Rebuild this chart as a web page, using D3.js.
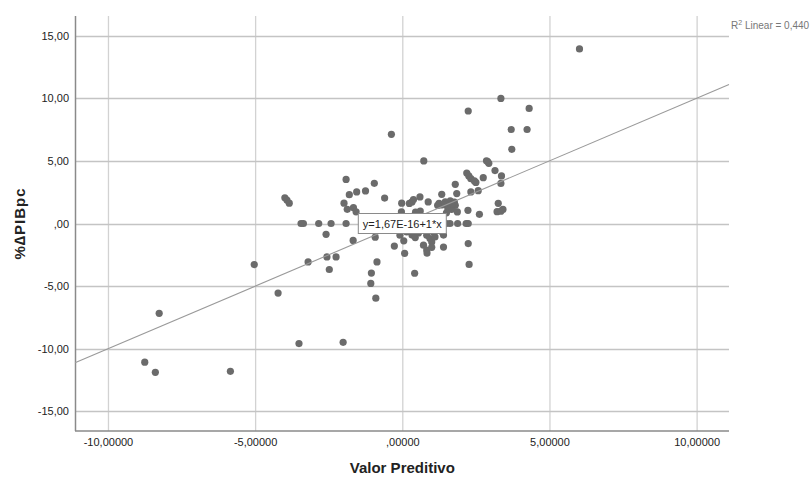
<!DOCTYPE html>
<html>
<head>
<meta charset="utf-8">
<script src="https://cdn.jsdelivr.net/npm/d3@7"></script>
<style>
  body { margin: 0; background: #fff; }
  text { font-family: "Liberation Sans", Arial, sans-serif; }
</style>
</head>
<body>
<div id="scatter"></div>
<script>
var svgWidth = 811;
var svgHeight = 477;

var margin = { top: 16, right: 82, bottom: 46, left: 75 };
var width = svgWidth - margin.left - margin.right;
var height = svgHeight - margin.top - margin.bottom;

// data
var predX = [6.02, 3.35, 2.24, 4.31, 3.70, 4.24, -0.37, 3.72, 0.73, 2.86,
  2.94, 3.15, 2.19, 2.26, 2.33, 2.75, 2.50, 3.37, 3.35, 1.80,
  -1.91, -0.95, -1.25, -1.55, -1.80, -0.60, 0.60, 1.34, 2.33, 2.58,
  1.85, -3.99, -3.92, -3.84, -1.98, -1.87, -1.66, -1.57, -0.02, 0.24,
  0.33, 0.38, 0.88, 1.25, 1.46, 1.63, 1.77, 1.60, 1.80, 1.67,
  1.32, 0.61, -0.03, 1.87, 2.23, 2.62, 3.26, 3.22, 3.42, 3.35,
  -3.44, -3.36, -2.84, -2.42, -1.91, 1.62, 1.88, 2.17, 2.24, 1.50,
  0.70, -0.60, -2.59, -1.67, -0.92, -0.08, 0.15, 0.33, 0.44, 0.55,
  0.72, 0.83, 0.94, 1.00, 1.05, 1.11, 0.72, 0.83, 1.00, 1.40,
  1.35, 1.40, -0.27, 0.05, 0.08, 0.84, 2.24, 2.27, 0.42, -0.86,
  -1.05, -1.07, -0.90, -2.56, -2.25, -2.48, -3.20, -5.03, -4.22, -8.26,
  -3.51, -2.01, -8.75, -8.39, -5.84, 1.45, 1.55, 1.70, 1.20, 1.50,
  0.45, 0.95, 0.20, 1.20, 2.90, 2.45];
var pibY = [13.93, 9.98, 8.98, 9.18, 7.50, 7.50, 7.12, 5.92, 4.99, 5.00,
  4.80, 4.22, 4.03, 3.80, 3.58, 3.66, 3.28, 3.80, 3.20, 3.13,
  3.52, 3.21, 2.60, 2.52, 2.30, 2.03, 2.12, 2.33, 2.52, 2.62,
  2.39, 2.05, 1.87, 1.62, 1.62, 1.13, 1.26, 0.93, 1.62, 1.60,
  1.72, 1.91, 1.72, 1.60, 1.72, 1.80, 1.70, 1.34, 1.45, 1.12,
  1.48, 0.99, 0.92, 0.92, 1.05, 0.73, 1.61, 0.94, 1.12, 0.98,
  0, 0, 0, 0, 0, 0, 0, 0, 0, 0,
  0, 0, -0.86, -1.35, -1.09, -0.93, -0.67, -0.92, -1.12, -0.75,
  -0.53, -0.94, -1.20, -1.47, -0.67, -1.07, -1.73, -2.12, -1.90, -1.88,
  -0.66, -0.92, -1.80, -1.38, -2.38, -2.36, -1.60, -3.27, -3.97, -3.07,
  -3.96, -4.78, -5.96, -2.67, -2.67, -3.67, -3.07, -3.28, -5.55, -7.17,
  -9.58, -9.48, -11.07, -11.88, -11.80, 1.50, 1.15, 1.55, 1.45, 0.85,
  0.90, 0.55, -0.40, -0.40, 4.95, 3.40];

var xTicks = [-10, -5, 0, 5, 10];
var xTickLabels = ["-10,00000", "-5,00000", ",00000", "5,00000", "10,00000"];
var yTicks = [15, 10, 5, 0, -5, -10, -15];
var yTickLabels = ["15,00", "10,00", "5,00", ",00", "-5,00", "-10,00", "-15,00"];

// fit line y = 1.67E-16 + 1*x
var fitIntercept = 1.67e-16;
var fitSlope = 1;

var svg = d3.select("#scatter")
  .append("svg")
  .attr("width", svgWidth)
  .attr("height", svgHeight);

var chartGroup = svg.append("g")
  .attr("transform", `translate(${margin.left}, ${margin.top})`);

var xScale = d3.scaleLinear()
  .domain([-11.12, 11.10])
  .range([0, width]);

var yScale = d3.scaleLinear()
  .domain([-16.56, 16.56])
  .range([height, 0]);

// grid lines
chartGroup.append("g")
  .selectAll("line")
  .data(xTicks)
  .enter()
  .append("line")
  .attr("x1", d => xScale(d) + 0.5)
  .attr("x2", d => xScale(d) + 0.5)
  .attr("y1", 0)
  .attr("y2", height)
  .attr("stroke", "#d2d2d2")
  .attr("stroke-width", 1.3);

chartGroup.append("g")
  .selectAll("line")
  .data(yTicks)
  .enter()
  .append("line")
  .attr("x1", 0)
  .attr("x2", width)
  .attr("y1", d => Math.round(yScale(d)) + 0.5)
  .attr("y2", d => Math.round(yScale(d)) + 0.5)
  .attr("stroke", "#c4c4c4")
  .attr("stroke-width", 1.3);

// axes (labels only, lines drawn below)
var xAxis = d3.axisBottom(xScale)
  .tickValues(xTicks)
  .tickSize(0)
  .tickPadding(7)
  .tickFormat((d, i) => xTickLabels[i]);

var yAxis = d3.axisLeft(yScale)
  .tickValues(yTicks)
  .tickSize(0)
  .tickPadding(6)
  .tickFormat((d, i) => yTickLabels[i]);

chartGroup.append("g")
  .attr("transform", `translate(0, ${height})`)
  .call(xAxis)
  .call(g => g.select(".domain").remove())
  .selectAll("text")
  .style("font-size", "11px")
  .attr("fill", "#222");

chartGroup.append("g")
  .call(yAxis)
  .call(g => g.select(".domain").remove())
  .selectAll("text")
  .style("font-size", "11px")
  .attr("fill", "#222");

chartGroup.append("line")
  .attr("x1", 0.5).attr("x2", 0.5)
  .attr("y1", 0).attr("y2", height)
  .attr("stroke", "#8a8a8a")
  .attr("stroke-width", 1.5);

chartGroup.append("line")
  .attr("x1", 0).attr("x2", width)
  .attr("y1", height).attr("y2", height)
  .attr("stroke", "#8a8a8a")
  .attr("stroke-width", 1.5);

// points
chartGroup.selectAll("circle")
  .data(predX)
  .enter()
  .append("circle")
  .attr("cx", d => xScale(d))
  .attr("cy", (d, i) => yScale(pibY[i]))
  .attr("r", 3.6)
  .attr("fill", "#6b6b6b");

// fit line
var xDom = xScale.domain();
chartGroup.append("line")
  .attr("x1", xScale(xDom[0]))
  .attr("y1", yScale(fitIntercept + fitSlope * xDom[0]))
  .attr("x2", xScale(xDom[1]))
  .attr("y2", yScale(fitIntercept + fitSlope * xDom[1]))
  .attr("stroke", "#9a9a9a")
  .attr("stroke-width", 1.1);

// equation box
var eqGroup = chartGroup.append("g")
  .attr("transform", `translate(${xScale(0)}, ${yScale(0)})`);

eqGroup.append("rect")
  .attr("x", -44)
  .attr("y", -10)
  .attr("width", 88)
  .attr("height", 20)
  .attr("fill", "#fff")
  .attr("stroke", "#8a8a8a");

eqGroup.append("text")
  .attr("text-anchor", "middle")
  .attr("y", 4)
  .style("font-size", "11px")
  .attr("fill", "#222")
  .text("y=1,67E-16+1*x");

// R2 label
var r2 = svg.append("text")
  .attr("x", margin.left + width + 2)
  .attr("y", 29)
  .style("font-size", "10px")
  .attr("fill", "#777");
r2.append("tspan").text("R");
r2.append("tspan").attr("dy", -4).style("font-size", "7px").text("2");
r2.append("tspan").attr("dy", 4).text(" Linear = 0,440");

// axis titles
svg.append("text")
  .attr("x", margin.left + xScale(0))
  .attr("y", 473)
  .attr("text-anchor", "middle")
  .style("font-size", "15px")
  .style("font-weight", "bold")
  .attr("fill", "#222")
  .text("Valor Preditivo");

svg.append("text")
  .attr("transform", `translate(25, ${margin.top + yScale(0)}) rotate(-90)`)
  .attr("text-anchor", "middle")
  .style("font-size", "15px")
  .style("font-weight", "bold")
  .style("letter-spacing", "1px")
  .attr("fill", "#222")
  .text("%\u2206PIBpc");
</script>
</body>
</html>
